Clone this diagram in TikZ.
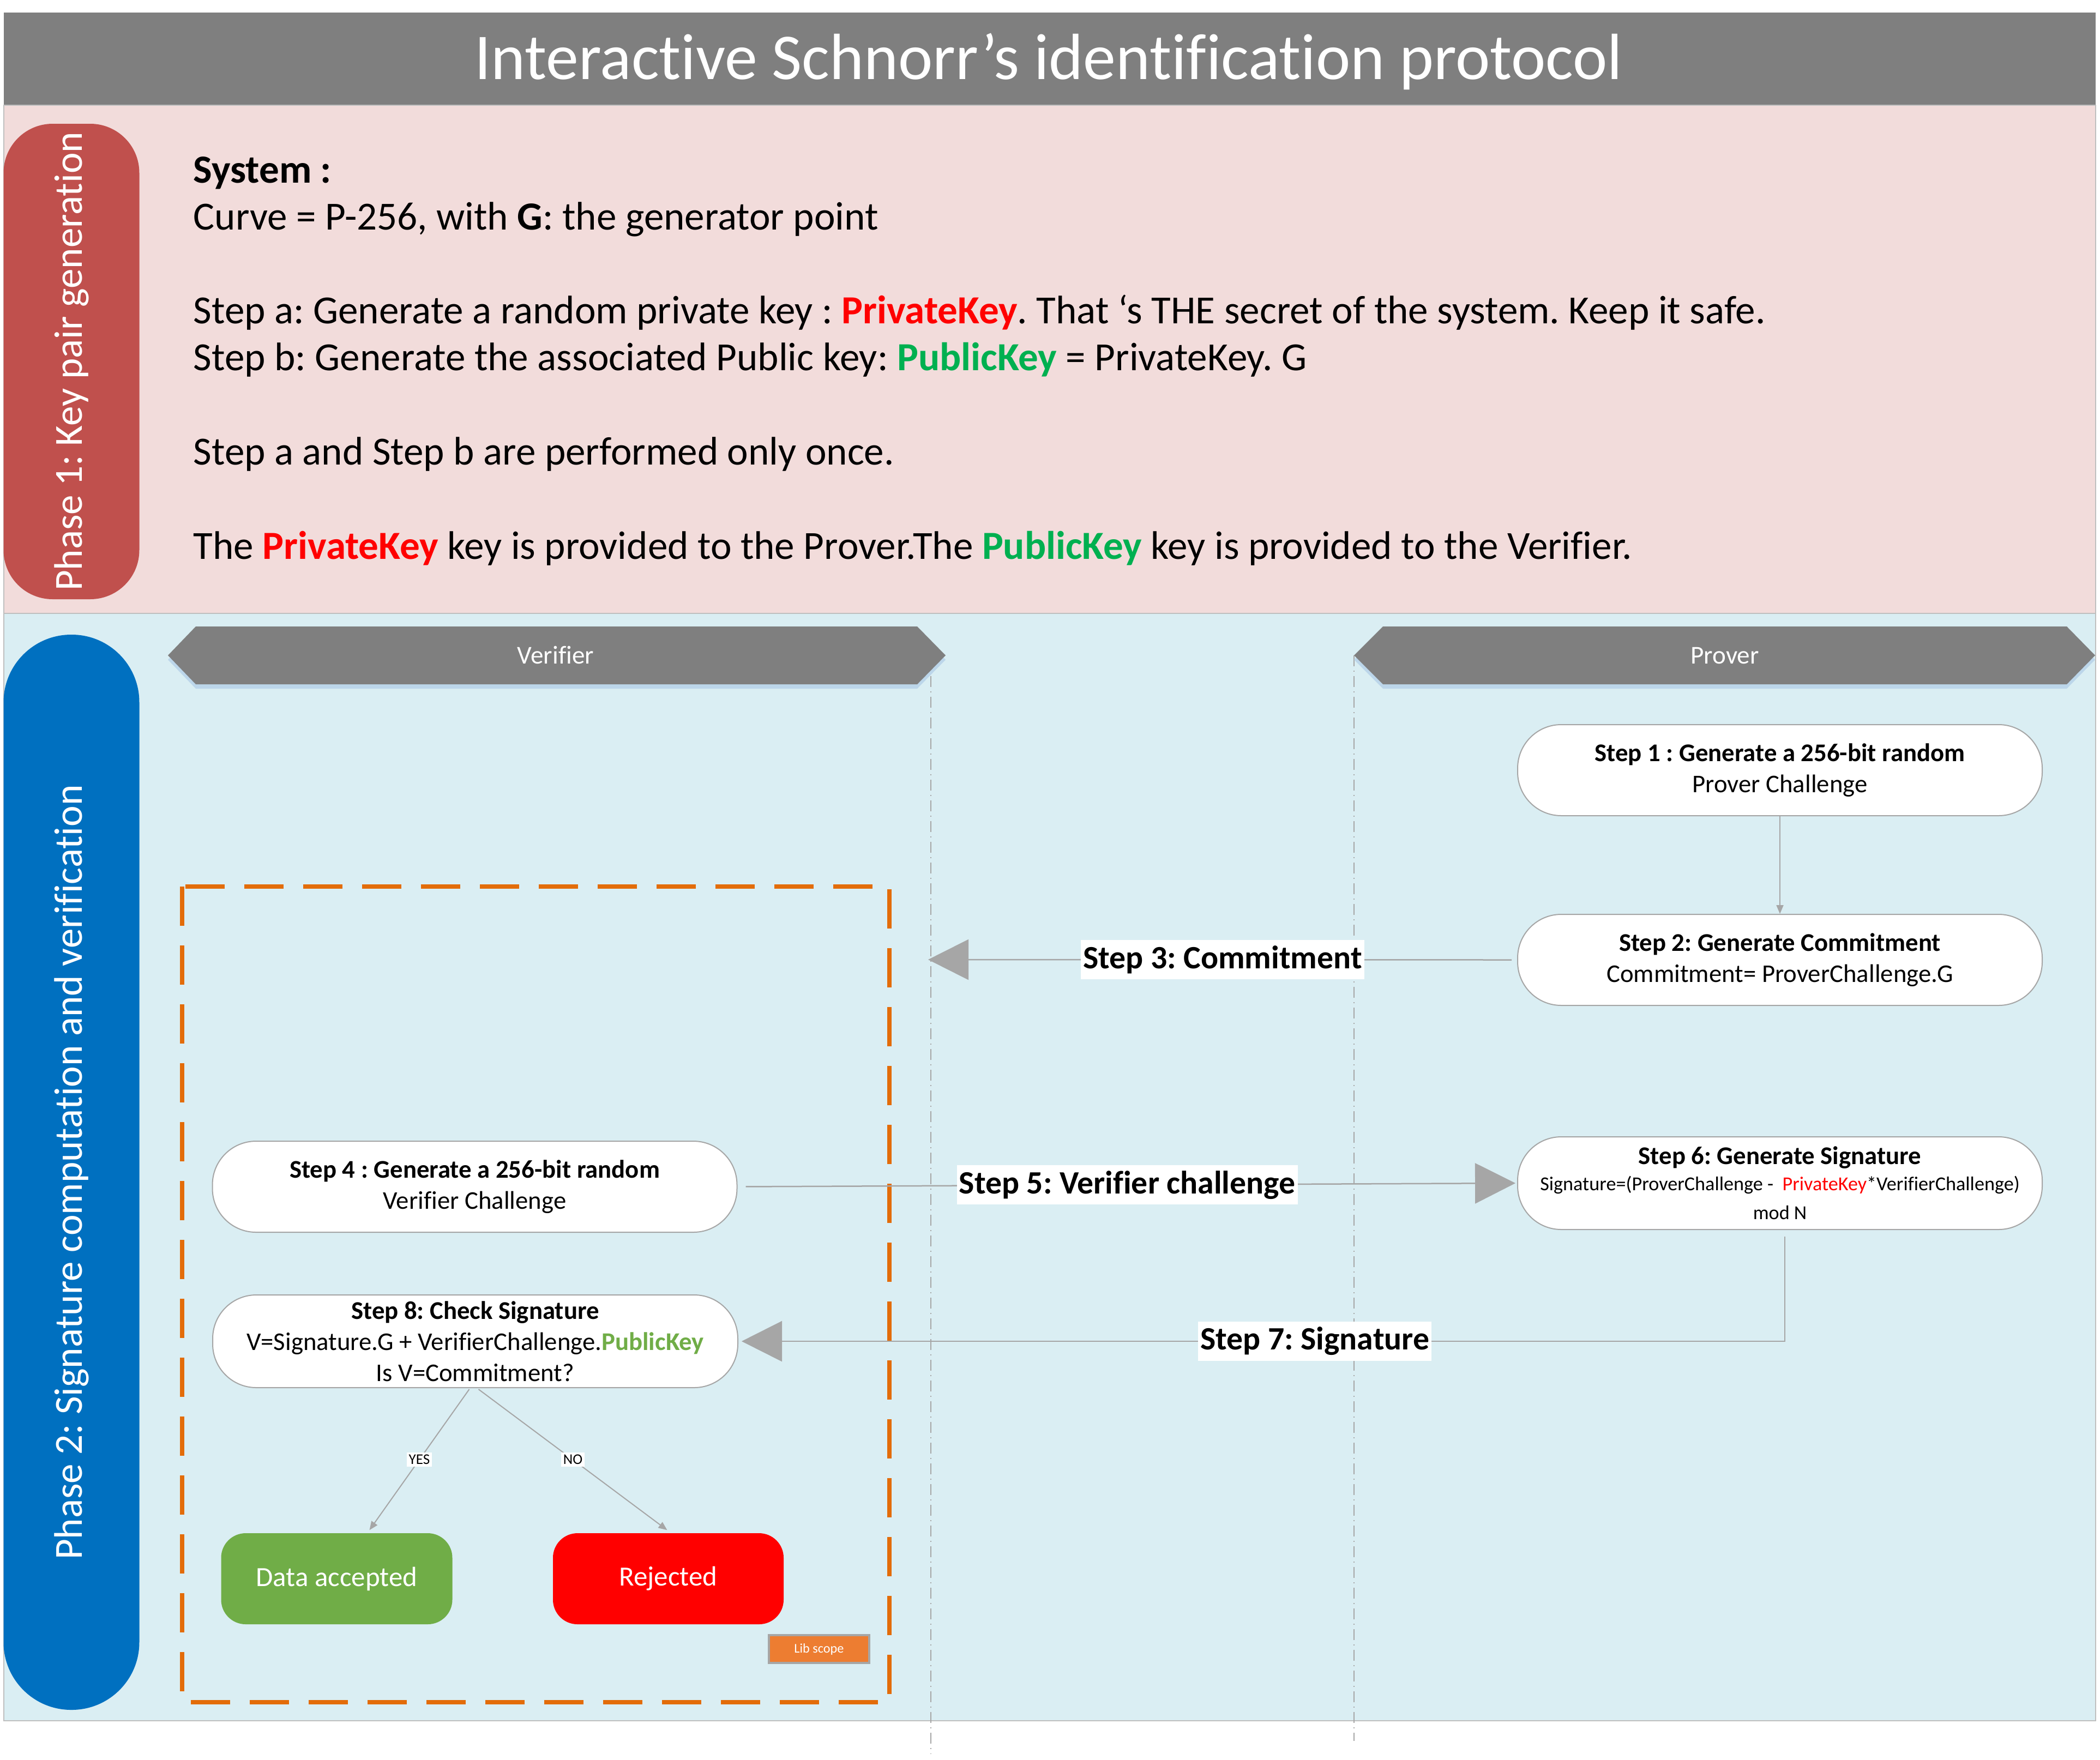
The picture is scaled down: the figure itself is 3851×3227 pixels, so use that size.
\documentclass[tikz,border=0pt]{standalone}
\usepackage{fontspec}
\setmainfont{Carlito}[Ligatures=NoCommon]
\usetikzlibrary{arrows.meta,calc}

\definecolor{bandgray}{HTML}{7F7F7F}
\definecolor{pinkbg}{HTML}{F2DCDB}
\definecolor{bluebg}{HTML}{DAEEF3}
\definecolor{phaseone}{HTML}{C0504D}
\definecolor{phasetwo}{HTML}{0070C0}
\definecolor{linegray}{HTML}{A6A6A6}
\definecolor{edgegray}{HTML}{BFBFBF}
\definecolor{scopeorange}{HTML}{E36C09}
\definecolor{libfill}{HTML}{ED7D31}
\definecolor{keyred}{HTML}{FF0000}
\definecolor{keygreen}{HTML}{00B050}
\definecolor{okgreen}{HTML}{70AD47}
\definecolor{shadowblue}{HTML}{BCD6EA}

\newcommand{\fsz}[2]{\fontsize{#1}{#2}\selectfont}
\frenchspacing

\begin{document}
\begin{tikzpicture}[x=0.1mm, y=-0.1mm,
  stepbox/.style={draw=linegray, line width=0.2mm, fill=white, rounded corners=8mm,
    minimum width=96.2mm, minimum height=16.7mm, align=center, inner sep=0pt,
    font=\fsz{13.3}{16.2}},
  msglabel/.style={fill=white, inner xsep=0.4mm, inner ysep=0mm, minimum height=7.2mm,
    font=\bfseries\fsz{17}{20}},
  msg/.style={draw=linegray, line width=0.25mm, -{Triangle[length=7.4mm,width=7.4mm]}},
  flow/.style={draw=linegray, line width=0.2mm, -{Triangle[length=1.6mm,width=1.3mm]}},
  lifeline/.style={draw=linegray, line width=0.2mm,
    dash pattern=on 2mm off 0.8mm on 0.2mm off 0.8mm},
  outcome/.style={rounded corners=4.5mm, minimum width=42.4mm, minimum height=16.7mm,
    text=white, font=\fsz{14.5}{17}},
  phasepill/.style={rotate=90, minimum height=24.9mm, text=white, font=\fsz{20.8}{25}},
  bodyline/.style={anchor=base west, inner sep=0pt, font=\fsz{20.8}{25}},
  branchlabel/.style={fill=white, inner sep=0.4mm, font=\fsz{7.7}{9}},
  headerlabel/.style={anchor=base, text=white, font=\fsz{13.4}{16}}
]
\useasboundingbox (0,0) rectangle (3851,3227);
\fill[white] (0,0) rectangle (3851,3227);

% title band and the two phase bands
\fill[bandgray] (7,23) rectangle (3843,193);
\filldraw[fill=pinkbg, draw=edgegray, line width=0.2mm] (7,193) rectangle (3843,1125);
\filldraw[fill=bluebg, draw=edgegray, line width=0.2mm] (7,1125) rectangle (3843,3156);
\node[anchor=base, text=white, font=\fsz{34.1}{40}] (title) at (1923,145)
  {Interactive Schnorr’s identification protocol};

% phase labels
\node[phasepill, fill=phaseone, rounded corners=9mm, minimum width=87.2mm] (ph1) at (131,663)
  {Phase 1: Key pair generation};
\node[phasepill, fill=phasetwo, rounded corners=12.4mm, minimum width=197.2mm] (ph2) at (131,2150)
  {Phase 2: Signature computation and verification};

% phase 1 description
\node[bodyline] (sys) at (354,335) {\bfseries System :};
\node[bodyline] (curve) at (354,421) {Curve = P-256, with \textbf{G}: the generator point};
\node[bodyline] (stepa) at (354,593) {Step a: Generate a random private key : \textcolor{keyred}{\textbf{PrivateKey}}. That ‘s THE secret of the system. Keep it safe.};
\node[bodyline] (stepb) at (354,679) {Step b: Generate the associated Public key: \textcolor{keygreen}{\textbf{PublicKey}} = PrivateKey. G};
\node[bodyline] (once) at (354,852) {Step a and Step b are performed only once.};
\node[bodyline] (given) at (354,1025) {The \textcolor{keyred}{\textbf{PrivateKey}} key is provided to the Prover.The \textcolor{keygreen}{\textbf{PublicKey}} key is provided to the Verifier.};

% lifelines
\coordinate (vtop) at (1707,1202);
\coordinate (vbot) at (1707,3217);
\coordinate (ptop) at (2483,1202);
\coordinate (pbot) at (2483,3193);
\draw[lifeline] (vtop) -- (vbot);
\draw[lifeline] (ptop) -- (pbot);

% participant headers
\fill[shadowblue] (308,1210) -- (359,1157) -- (1682,1157) -- (1734,1210) -- (1682,1263) -- (359,1263) -- cycle;
\fill[bandgray] (308,1202) -- (359,1149) -- (1682,1149) -- (1734,1202) -- (1682,1255) -- (359,1255) -- cycle;
\node[headerlabel] (verifier) at (1019,1217) {Verifier};
\fill[shadowblue] (2483,1210) -- (2536,1157) -- (3790,1157) -- (3842,1210) -- (3790,1263) -- (2536,1263) -- cycle;
\fill[bandgray] (2483,1202) -- (2536,1149) -- (3790,1149) -- (3842,1202) -- (3790,1255) -- (2536,1255) -- cycle;
\node[headerlabel] (prover) at (3163,1217) {Prover};

% library scope frame
\draw[scopeorange, line width=0.75mm, dash pattern=on 7.2mm off 3.6mm] (334,1626) rectangle (1631,3122);
\node[fill=libfill, draw=linegray, line width=0.4mm, minimum width=18.4mm, minimum height=5.1mm,
  inner sep=0pt, text=white, font=\fsz{6.9}{8}] (lib) at (1502,3024.5) {Lib scope};

% protocol steps
\node[stepbox] (s1) at (3264,1412.5) {\textbf{Step 1 : Generate a 256-bit random}\\Prover Challenge};
\node[stepbox] (s2) at (3264,1760.5) {\textbf{Step 2: Generate Commitment}\\Commitment= ProverChallenge.G};
\node[stepbox] (s4) at (870.5,2176.5) {\textbf{Step 4 : Generate a 256-bit random}\\Verifier Challenge};
\node[stepbox, minimum height=17mm] (s6) at (3264,2170)
  {\textbf{Step 6: Generate Signature}\\[-0.9mm]
   {\fsz{10.3}{12.4}Signature=(ProverChallenge -\ \ \textcolor{keyred}{PrivateKey}*VerifierChallenge)}\\[-0.4mm]
   {\fsz{10.3}{12.4}mod N}};
\node[stepbox, minimum width=96.3mm, minimum height=17mm] (s8) at (871.5,2460)
  {\textbf{Step 8: Check Signature}\\V=Signature.G + VerifierChallenge.\textcolor{okgreen}{\textbf{PublicKey}}\\Is V=Commitment?};

% outcomes
\node[outcome, fill=okgreen] (acc) at (617.5,2895.5) {Data accepted};
\node[outcome, fill=keyred, minimum width=42.3mm] (rej) at (1225.5,2895.5) {Rejected};

% messages
\coordinate (c3) at (1702,1760);
\draw[flow] (s1) -- (s2);
\draw[msg, shorten <=1mm] (s2.west) -- node[msglabel] (m3) {Step 3: Commitment} (c3);
\draw[msg, shorten <=1.5mm, shorten >=0.3mm] (s4.east) -- node[msglabel] (m5) {Step 5: Verifier challenge} (s6.west);
\draw[msg, shorten >=0.6mm] ($(s6.south)+(9,12)$) |- node[msglabel, pos=0.7245] (m7) {Step 7: Signature} (s8.east);

% decision branches
\draw[flow] ($(s8.south)+(-11,2)$) -- node[branchlabel] (yes) {YES} ($(acc.north)+(60,-5)$);
\draw[flow] ($(s8.south)+(6,2)$) -- node[branchlabel] (no) {NO} ($(rej.north)+(-2,-5)$);
\end{tikzpicture}
\end{document}
